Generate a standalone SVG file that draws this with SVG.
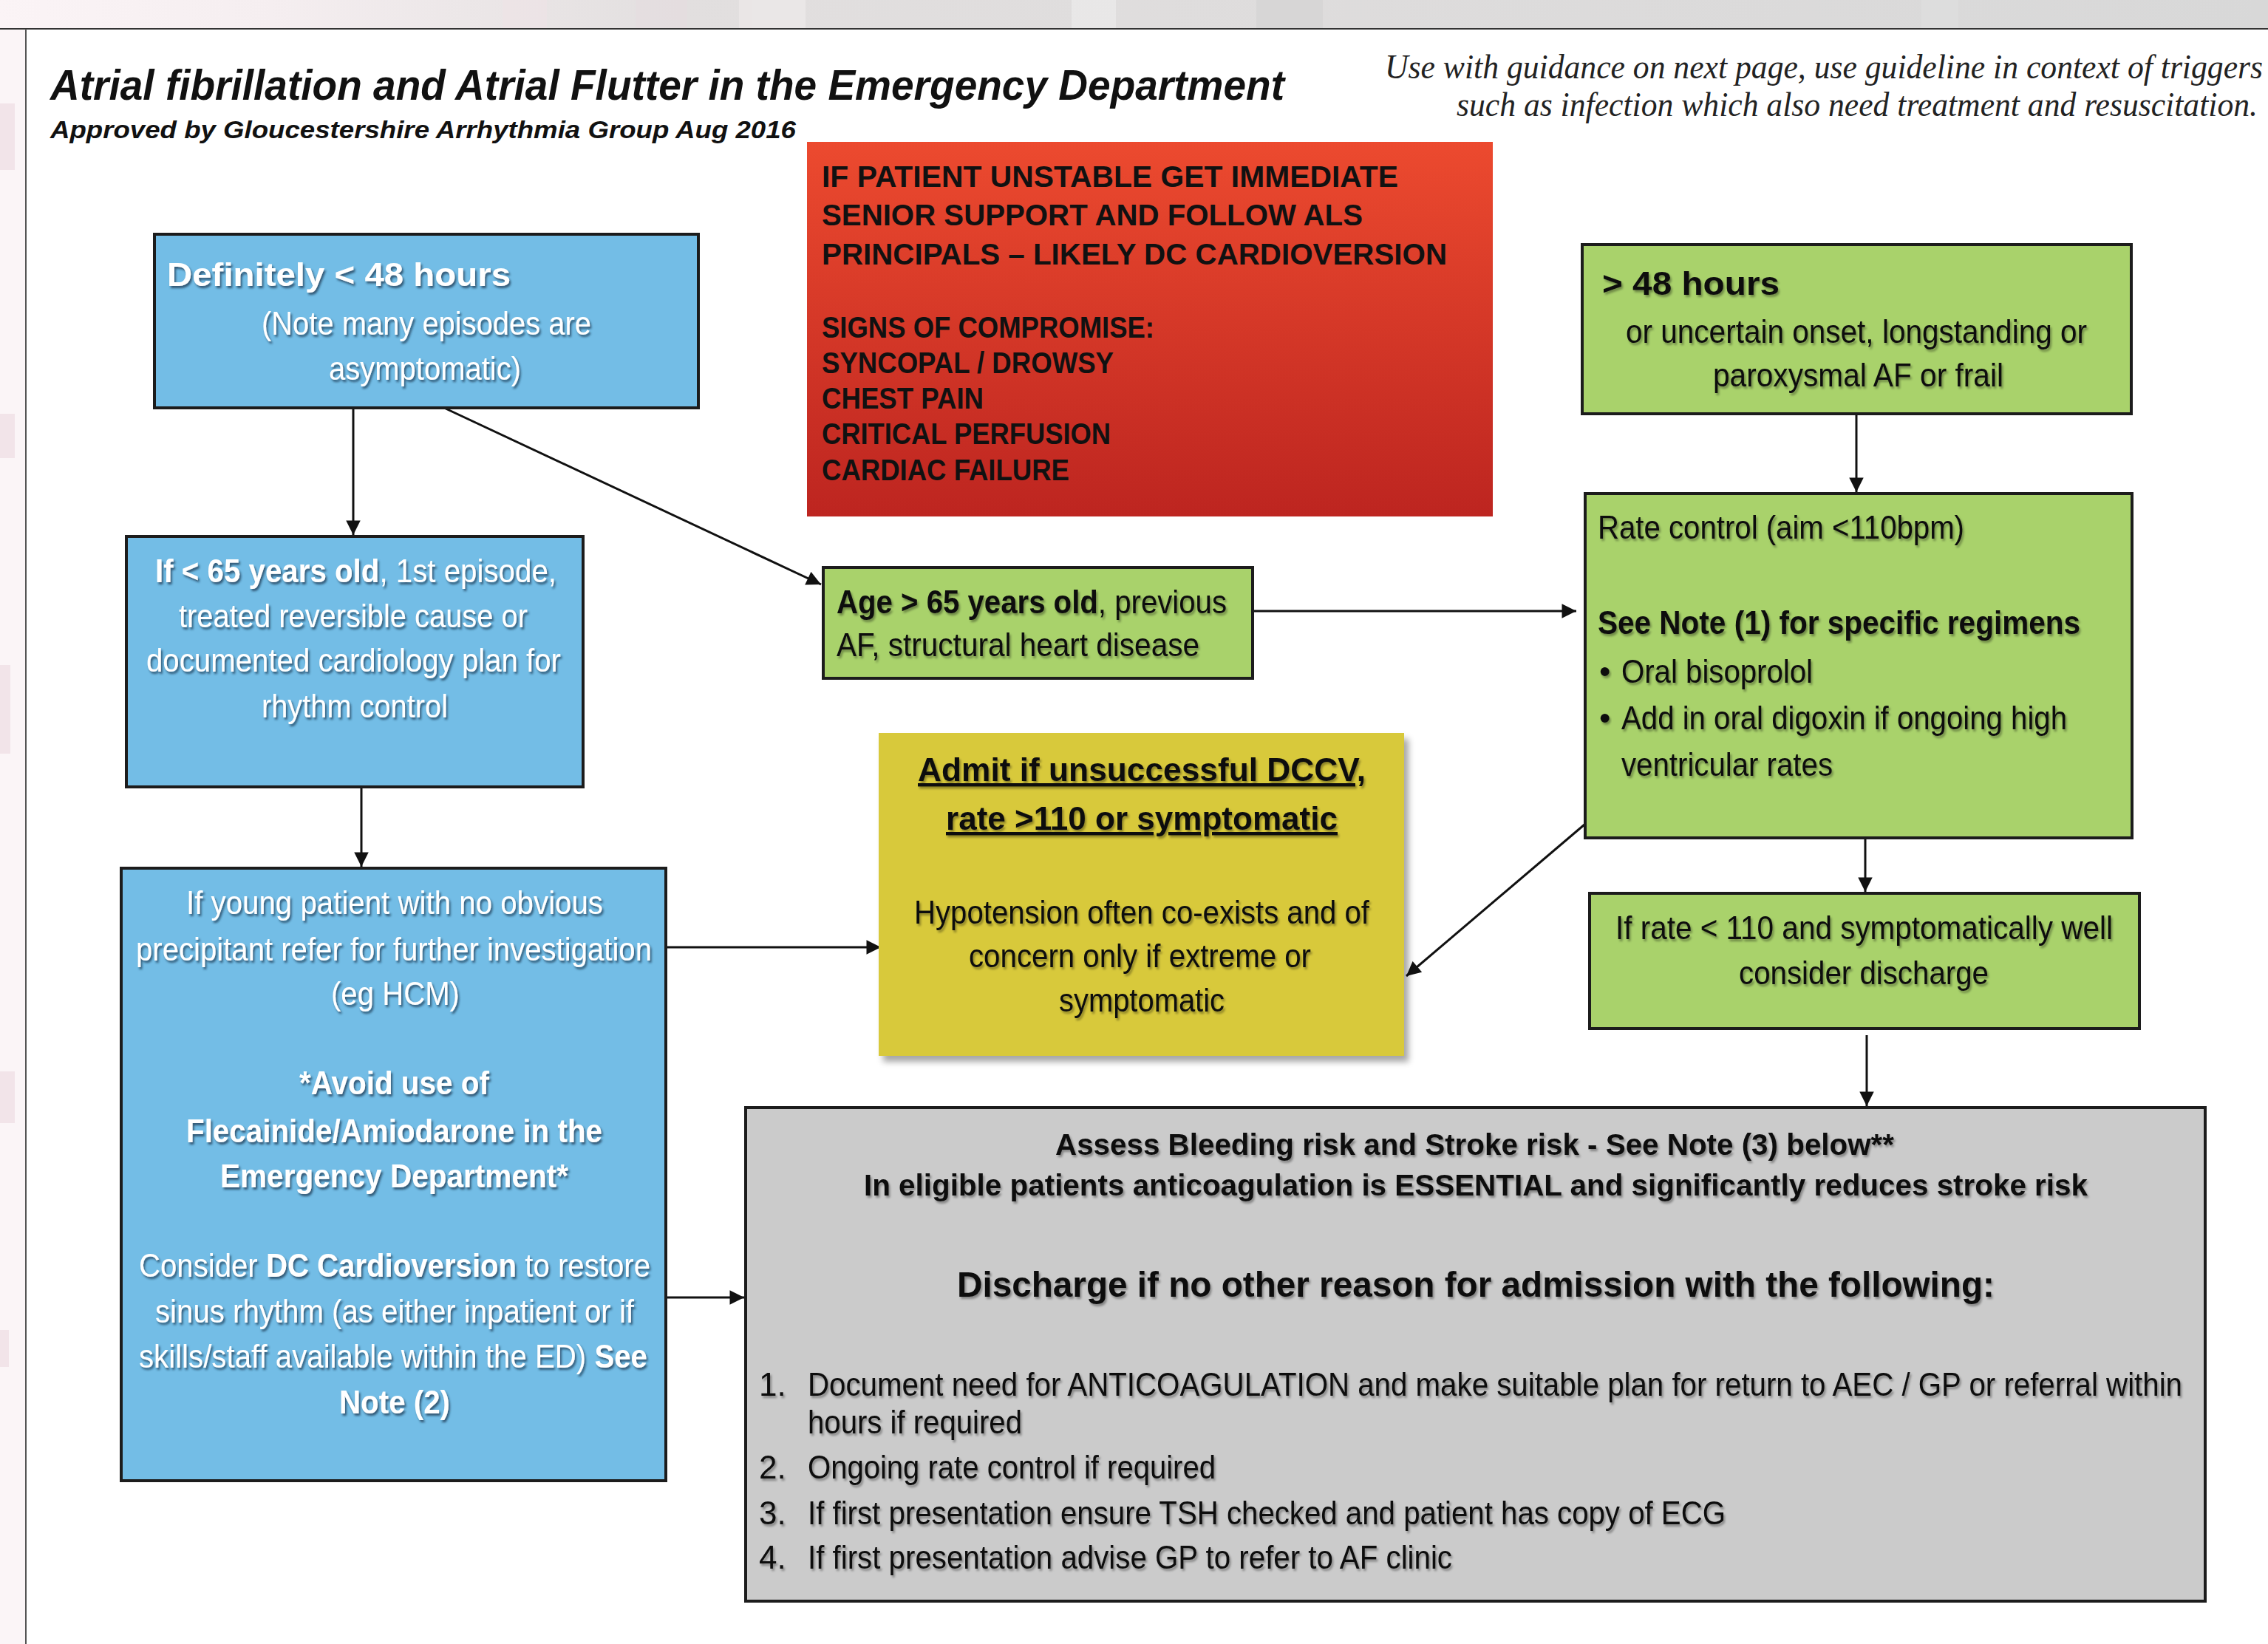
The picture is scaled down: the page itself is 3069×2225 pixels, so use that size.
<svg xmlns="http://www.w3.org/2000/svg" width="3069" height="2225" viewBox="0 0 3069 2225">
<defs>
<style>
.sans{font-family:"Liberation Sans",Arial,sans-serif}
.b{font-weight:bold}
.t44{font-size:44px}
.white{fill:#ffffff;filter:url(#ws)}
.dark{fill:#111111;filter:url(#ds)}
.box{stroke:#1c1c1c;stroke-width:4}
.blue{fill:#73bde6}
.green{fill:#a9d26b}
.conn{stroke:#111111;stroke-width:3;fill:none;marker-end:url(#ah)}
.red{font-family:"Liberation Sans",Arial,sans-serif;font-weight:bold;font-size:41px;fill:#111111}
</style>
<marker id="ah" viewBox="0 0 10 10" refX="10" refY="5" markerWidth="7" markerHeight="6.5" markerUnits="strokeWidth" orient="auto">
<path d="M0,0 L10,5 L0,10 z" fill="#111111"/>
</marker>
<filter id="ws" x="-5%" y="-30%" width="110%" height="160%">
<feDropShadow dx="2" dy="3" stdDeviation="1.5" flood-color="#1d3550" flood-opacity="0.75"/>
</filter>
<filter id="ds" x="-5%" y="-30%" width="110%" height="160%">
<feDropShadow dx="2" dy="3" stdDeviation="1.5" flood-color="#000000" flood-opacity="0.35"/>
</filter>
<filter id="boxshadow" x="-5%" y="-5%" width="112%" height="112%">
<feDropShadow dx="6" dy="8" stdDeviation="4" flood-color="#000000" flood-opacity="0.35"/>
</filter>
<linearGradient id="redgrad" x1="0" y1="0" x2="0" y2="1">
<stop offset="0" stop-color="#ec4a2f"/>
<stop offset="1" stop-color="#bd2520"/>
</linearGradient>
<linearGradient id="topband" x1="0" y1="0" x2="1" y2="0">
<stop offset="0" stop-color="#fbf4f6"/>
<stop offset="0.12" stop-color="#f5eef0"/>
<stop offset="0.3" stop-color="#e2dfdf"/>
<stop offset="1" stop-color="#d8d8d8"/>
</linearGradient>
</defs>

<!-- page background -->
<rect x="0" y="0" width="3069" height="2225" fill="#ffffff"/>
<rect x="0" y="0" width="3069" height="39" fill="url(#topband)"/>
<g opacity="0.6">
<rect x="680" y="0" width="60" height="39" fill="#efe3e6"/>
<rect x="860" y="0" width="70" height="39" fill="#e6dde0"/>
<rect x="1000" y="0" width="90" height="39" fill="#f0ecec"/>
<rect x="1450" y="0" width="60" height="39" fill="#eeeeee"/>
<rect x="1700" y="0" width="90" height="39" fill="#d2d2d2"/>
<rect x="2600" y="0" width="50" height="39" fill="#e0e0e0"/>
</g>
<rect x="0" y="39" width="35" height="2186" fill="#fbf5f7"/>
<g fill="#f2e4e9">
<rect x="0" y="140" width="20" height="90"/>
<rect x="0" y="560" width="20" height="60"/>
<rect x="0" y="900" width="14" height="120"/>
<rect x="0" y="1450" width="20" height="70"/>
<rect x="0" y="1800" width="12" height="50"/>
</g>
<line x1="0" y1="39" x2="3069" y2="39" stroke="#333333" stroke-width="2"/>
<line x1="35" y1="39" x2="35" y2="2225" stroke="#555555" stroke-width="2"/>

<!-- header -->
<g id="header">
<text class="sans b" x="68" y="135" font-size="58" font-style="italic" fill="#111111" textLength="1670" lengthAdjust="spacingAndGlyphs">Atrial fibrillation and Atrial Flutter in the Emergency Department</text>
<text class="sans b" x="68" y="187" font-size="34" font-style="italic" fill="#111111" textLength="1009" lengthAdjust="spacingAndGlyphs">Approved by Gloucestershire Arrhythmia Group Aug 2016</text>
<text x="1874" y="106" font-family="'Liberation Serif','Times New Roman',serif" font-style="italic" font-size="46" fill="#222222" textLength="1188" lengthAdjust="spacingAndGlyphs">Use with guidance on next page, use guideline in context of triggers</text>
<text x="1971" y="157" font-family="'Liberation Serif','Times New Roman',serif" font-style="italic" font-size="46" fill="#222222" textLength="1084" lengthAdjust="spacingAndGlyphs">such as infection which also need treatment and resuscitation.</text>
</g>

<!-- connectors -->
<g id="connectors">
<line class="conn" x1="478" y1="552" x2="478" y2="724"/>
<line class="conn" x1="601" y1="552" x2="1111" y2="791"/>
<line class="conn" x1="489" y1="1065" x2="489" y2="1173"/>
<line class="conn" x1="1695" y1="827" x2="2133" y2="827"/>
<line class="conn" x1="2512" y1="560" x2="2512" y2="666"/>
<line class="conn" x1="2524" y1="1111" x2="2524" y2="1207"/>
<line class="conn" x1="2144" y1="1116" x2="1903" y2="1321"/>
<line class="conn" x1="903" y1="1282" x2="1192" y2="1282"/>
<line class="conn" x1="903" y1="1756" x2="1007" y2="1756"/>
<line class="conn" x1="2526" y1="1401" x2="2526" y2="1497"/>
</g>

<!-- red warning box -->
<g id="node-unstable">
<rect x="1092" y="192" width="928" height="507" fill="url(#redgrad)"/>
<text class="red" x="1112" y="253" textLength="780" lengthAdjust="spacingAndGlyphs">IF PATIENT UNSTABLE GET IMMEDIATE</text>
<text class="red" x="1112" y="305" textLength="732" lengthAdjust="spacingAndGlyphs">SENIOR SUPPORT AND FOLLOW ALS</text>
<text class="red" x="1112" y="358" textLength="846" lengthAdjust="spacingAndGlyphs">PRINCIPALS – LIKELY DC CARDIOVERSION</text>
<text class="red" x="1112" y="457" textLength="450" lengthAdjust="spacingAndGlyphs">SIGNS OF COMPROMISE:</text>
<text class="red" x="1112" y="505" textLength="395" lengthAdjust="spacingAndGlyphs">SYNCOPAL / DROWSY</text>
<text class="red" x="1112" y="553" textLength="219" lengthAdjust="spacingAndGlyphs">CHEST PAIN</text>
<text class="red" x="1112" y="601" textLength="391" lengthAdjust="spacingAndGlyphs">CRITICAL PERFUSION</text>
<text class="red" x="1112" y="650" textLength="335" lengthAdjust="spacingAndGlyphs">CARDIAC FAILURE</text>
</g>

<!-- Definitely < 48 hours -->
<g id="node-lt48">
<rect class="box blue" x="209" y="317" width="736" height="235"/>
<text class="sans b t44 white" x="226" y="387" textLength="465" lengthAdjust="spacingAndGlyphs">Definitely &lt; 48 hours</text>
<text class="sans t44 white" x="354" y="453" textLength="446" lengthAdjust="spacingAndGlyphs">(Note many episodes are</text>
<text class="sans t44 white" x="445" y="514" textLength="260" lengthAdjust="spacingAndGlyphs">asymptomatic)</text>
</g>

<!-- If < 65 years -->
<g id="node-lt65">
<rect class="box blue" x="171" y="726" width="618" height="339"/>
<text class="sans t44 white" x="210" y="788" textLength="543" lengthAdjust="spacingAndGlyphs"><tspan class="b">If &lt; 65 years old</tspan>, 1st episode,</text>
<text class="sans t44 white" x="242" y="849" textLength="472" lengthAdjust="spacingAndGlyphs">treated reversible cause or</text>
<text class="sans t44 white" x="198" y="909" textLength="561" lengthAdjust="spacingAndGlyphs">documented cardiology plan for</text>
<text class="sans t44 white" x="354" y="971" textLength="252" lengthAdjust="spacingAndGlyphs">rhythm control</text>
</g>

<!-- young patient -->
<g id="node-young">
<rect class="box blue" x="164" y="1175" width="737" height="829"/>
<text class="sans t44 white" x="252" y="1237" textLength="564" lengthAdjust="spacingAndGlyphs">If young patient with no obvious</text>
<text class="sans t44 white" x="184" y="1300" textLength="698" lengthAdjust="spacingAndGlyphs">precipitant refer for further investigation</text>
<text class="sans t44 white" x="448" y="1360" textLength="174" lengthAdjust="spacingAndGlyphs">(eg HCM)</text>
<text class="sans b t44 white" x="405" y="1481" textLength="257" lengthAdjust="spacingAndGlyphs">*Avoid use of</text>
<text class="sans b t44 white" x="252" y="1546" textLength="563" lengthAdjust="spacingAndGlyphs">Flecainide/Amiodarone in the</text>
<text class="sans b t44 white" x="298" y="1607" textLength="471" lengthAdjust="spacingAndGlyphs">Emergency Department*</text>
<text class="sans t44 white" x="188" y="1728" textLength="692" lengthAdjust="spacingAndGlyphs">Consider <tspan class="b">DC Cardioversion</tspan> to restore</text>
<text class="sans t44 white" x="210" y="1790" textLength="648" lengthAdjust="spacingAndGlyphs">sinus rhythm (as either inpatient or if</text>
<text class="sans t44 white" x="188" y="1851" textLength="688" lengthAdjust="spacingAndGlyphs">skills/staff available within the ED) <tspan class="b">See</tspan></text>
<text class="sans b t44 white" x="459" y="1913" textLength="150" lengthAdjust="spacingAndGlyphs">Note (2)</text>
</g>

<!-- Age > 65 -->
<g id="node-gt65">
<rect class="box green" x="1114" y="768" width="581" height="150"/>
<text class="sans t44 dark" x="1132" y="830" textLength="528" lengthAdjust="spacingAndGlyphs"><tspan class="b">Age &gt; 65 years old</tspan>, previous</text>
<text class="sans t44 dark" x="1132" y="888" textLength="491" lengthAdjust="spacingAndGlyphs">AF, structural heart disease</text>
</g>

<!-- Admit box -->
<g id="node-admit">
<rect x="1189" y="992" width="711" height="437" fill="#d8c93b" filter="url(#boxshadow)"/>
<text class="sans b t44 dark" x="1242" y="1057" textLength="606" lengthAdjust="spacingAndGlyphs" text-decoration="underline">Admit if unsuccessful DCCV,</text>
<text class="sans b t44 dark" x="1280" y="1123" textLength="530" lengthAdjust="spacingAndGlyphs" text-decoration="underline">rate &gt;110 or symptomatic</text>
<text class="sans t44 dark" x="1237" y="1250" textLength="616" lengthAdjust="spacingAndGlyphs">Hypotension often co-exists and of</text>
<text class="sans t44 dark" x="1311" y="1309" textLength="463" lengthAdjust="spacingAndGlyphs">concern only if extreme or</text>
<text class="sans t44 dark" x="1433" y="1369" textLength="224" lengthAdjust="spacingAndGlyphs">symptomatic</text>
</g>

<!-- > 48 hours -->
<g id="node-gt48">
<rect class="box green" x="2141" y="331" width="743" height="229"/>
<text class="sans b t44 dark" x="2168" y="399" textLength="240" lengthAdjust="spacingAndGlyphs">&gt; 48 hours</text>
<text class="sans t44 dark" x="2200" y="464" textLength="624" lengthAdjust="spacingAndGlyphs">or uncertain onset, longstanding or</text>
<text class="sans t44 dark" x="2318" y="523" textLength="393" lengthAdjust="spacingAndGlyphs">paroxysmal AF or frail</text>
</g>

<!-- Rate control -->
<g id="node-rate">
<rect class="box green" x="2145" y="668" width="740" height="466"/>
<text class="sans t44 dark" x="2162" y="729" textLength="496" lengthAdjust="spacingAndGlyphs">Rate control (aim &lt;110bpm)</text>
<text class="sans b t44 dark" x="2162" y="858" textLength="653" lengthAdjust="spacingAndGlyphs">See Note (1) for specific regimens</text>
<text class="sans t44 dark" x="2164" y="924">•</text>
<text class="sans t44 dark" x="2194" y="924" textLength="259" lengthAdjust="spacingAndGlyphs">Oral bisoprolol</text>
<text class="sans t44 dark" x="2164" y="987">•</text>
<text class="sans t44 dark" x="2194" y="987" textLength="603" lengthAdjust="spacingAndGlyphs">Add in oral digoxin if ongoing high</text>
<text class="sans t44 dark" x="2194" y="1050" textLength="286" lengthAdjust="spacingAndGlyphs">ventricular rates</text>
</g>

<!-- If rate < 110 -->
<g id="node-discharge-check">
<rect class="box green" x="2151" y="1209" width="744" height="183"/>
<text class="sans t44 dark" x="2186" y="1271" textLength="673" lengthAdjust="spacingAndGlyphs">If rate &lt; 110 and symptomatically well</text>
<text class="sans t44 dark" x="2353" y="1332" textLength="338" lengthAdjust="spacingAndGlyphs">consider discharge</text>
</g>

<!-- Gray assessment box -->
<g id="node-assess">
<rect class="box" x="1009" y="1499" width="1975" height="668" fill="#cbcbcb"/>
<text class="sans b dark" x="1428" y="1563" font-size="40" textLength="1135" lengthAdjust="spacingAndGlyphs">Assess Bleeding risk and Stroke risk - See Note (3) below**</text>
<text class="sans b dark" x="1169" y="1618" font-size="40" textLength="1656" lengthAdjust="spacingAndGlyphs">In eligible patients anticoagulation is ESSENTIAL and significantly reduces stroke risk</text>
<text class="sans b dark" x="1295" y="1755" font-size="48" textLength="1404" lengthAdjust="spacingAndGlyphs">Discharge if no other reason for admission with the following:</text>
<text class="sans t44 dark" x="1027" y="1889">1.</text>
<text class="sans t44 dark" x="1093" y="1889" textLength="1860" lengthAdjust="spacingAndGlyphs">Document need for ANTICOAGULATION and make suitable plan for return to AEC / GP or referral within</text>
<text class="sans t44 dark" x="1093" y="1940" textLength="290" lengthAdjust="spacingAndGlyphs">hours if required</text>
<text class="sans t44 dark" x="1027" y="2001">2.</text>
<text class="sans t44 dark" x="1093" y="2001" textLength="552" lengthAdjust="spacingAndGlyphs">Ongoing rate control if required</text>
<text class="sans t44 dark" x="1027" y="2063">3.</text>
<text class="sans t44 dark" x="1093" y="2063" textLength="1242" lengthAdjust="spacingAndGlyphs">If first presentation ensure TSH checked and patient has copy of ECG</text>
<text class="sans t44 dark" x="1027" y="2123">4.</text>
<text class="sans t44 dark" x="1093" y="2123" textLength="872" lengthAdjust="spacingAndGlyphs">If first presentation advise GP to refer to AF clinic</text>
</g>
</svg>
